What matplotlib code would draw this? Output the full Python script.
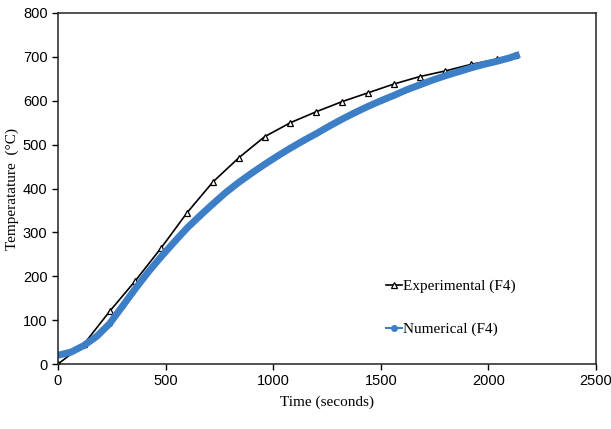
import numpy as np
import matplotlib.pyplot as plt

# experimental readings (every 120 s)
t_exp = [0, 120, 240, 360, 480, 600, 720, 840, 960, 1080, 1200, 1320,
         1440, 1560, 1680, 1800, 1920, 2040, 2125]
T_exp = [0, 45, 120, 190, 265, 345, 415, 470, 518, 550, 575, 598,
         618, 638, 655, 668, 683, 695, 705]

# numerical result (every 60 s)
t_num = [0, 60, 120, 180, 240, 300, 360, 420, 480, 540, 600, 660, 720,
         780, 840, 900, 960, 1020, 1080, 1140, 1200, 1260, 1320, 1380,
         1440, 1500, 1560, 1620, 1680, 1740, 1800, 1860, 1920, 1980,
         2040, 2100, 2130]
T_num = [20, 27, 42, 63, 92, 132, 172, 210, 245, 278, 310, 338, 365,
         391, 414, 435, 455, 474, 492, 509, 525, 542, 558, 573,
         587, 600, 612, 625, 636, 647, 657, 666, 675, 683,
         690, 698, 703]

plt.rcParams['font.family'] = ['Liberation Sans Narrow', 'Liberation Sans']

fig = plt.figure(figsize=(6.11, 4.29), dpi=100)
ax = fig.add_axes([0.0949, 0.1515, 0.8806, 0.8182])

ax.plot(t_exp, T_exp, color='black', lw=1.2, marker='^', ms=5,
        mfc='white', mec='black', mew=0.9, label='Experimental (F4)')
ax.plot(t_num, T_num, color='#3d7fc6', lw=5, marker='o', ms=2.5,
        label='Numerical (F4)')

ax.set_xlim(0, 2500)
ax.set_ylim(0, 800)
ax.set_xticks(np.arange(0, 2501, 500))
ax.set_yticks(np.arange(0, 801, 100))
ax.tick_params(direction='out', length=4, width=1, labelsize=10.5)
for s in ax.spines.values():
    s.set_linewidth(1.1)
    s.set_color('#222222')

ax.set_xlabel('Time (seconds)', family='Liberation Serif', fontsize=11, labelpad=5)
ax.set_ylabel('Temperatature  (°C)', family='Liberation Serif', fontsize=11, labelpad=3)

leg = ax.legend(loc='lower left', bbox_to_anchor=(0.585, 0.04), frameon=False,
                handlelength=1.0, handletextpad=0.05, labelspacing=1.9,
                prop={'family': 'Liberation Serif', 'size': 11})
leg.legend_handles[1].set_linewidth(1.5)
leg.legend_handles[1].set_markersize(4)
leg.legend_handles[0].set_markersize(5)

fig.savefig('out.png', dpi=100)
